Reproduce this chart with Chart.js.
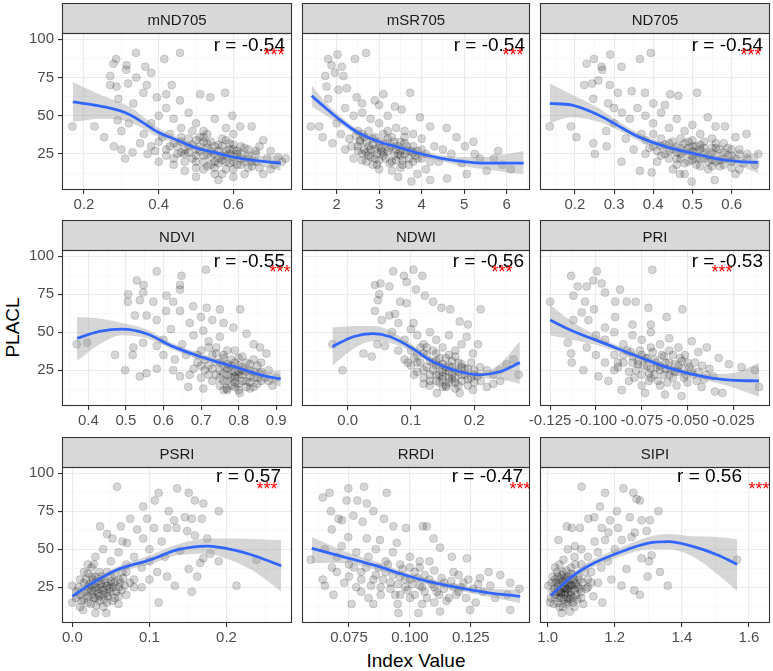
<!DOCTYPE html>
<html>
<head>
<meta charset="utf-8">
<script src="https://cdn.jsdelivr.net/npm/chart.js@4.4.1/dist/chart.umd.min.js"></script>
<style>
  body { margin: 0; background: #fff; }
  #wrap { position: relative; width: 773px; height: 671px; overflow: hidden; font-family: "Liberation Sans", Arial, sans-serif; }
  #wrap canvas { position: absolute; }
  .title { position: absolute; font-size: 19px; line-height: 19px; color: #000; white-space: nowrap; text-align: center; }
</style>
</head>
<body>
<div id="wrap">
  <div class="title" style="left:316px; top:651px; width:200px;">Index Value</div>
  <div class="title" style="left:-38px; top:318px; width:100px; transform:rotate(-90deg);">PLACL</div>
</div>
<script>
// facets, labels
const indexNames = ["mND705", "mSR705", "ND705", "NDVI", "NDWI", "PRI", "PSRI", "RRDI", "SIPI"];
const rLabels = ["r = -0.54", "r = -0.54", "r = -0.54", "r = -0.55", "r = -0.56", "r = -0.53", "r = 0.57", "r = -0.47", "r = 0.56"];
const yTicks = ["25", "50", "75", "100"];
const yRange = [1.5, 104];

// x tick labels and ranges per index
const xTicksMND705 = ["0.2", "0.4", "0.6"];
const xTicksMSR705 = ["2", "3", "4", "5", "6"];
const xTicksND705 = ["0.2", "0.3", "0.4", "0.5", "0.6"];
const xTicksNDVI = ["0.4", "0.5", "0.6", "0.7", "0.8", "0.9"];
const xTicksNDWI = ["0.0", "0.1", "0.2"];
const xTicksPRI = ["-0.125", "-0.100", "-0.075", "-0.050", "-0.025"];
const xTicksPSRI = ["0.0", "0.1", "0.2"];
const xTicksRRDI = ["0.075", "0.100", "0.125"];
const xTicksSIPI = ["1.0", "1.2", "1.4", "1.6"];

const xRangeMND705 = [0.141, 0.757];
const xRangeMSR705 = [1.184, 6.55];
const xRangeND705 = [0.111, 0.698];
const xRangeNDVI = [0.33, 0.942];
const xRangeNDWI = [-0.072, 0.288];
const xRangePRI = [-0.1305, -0.005];
const xRangePSRI = [-0.0134, 0.285];
const xRangeRRDI = [0.0557, 0.1493];
const xRangeSIPI = [0.977, 1.663];

// scatter points [index value, PLACL]
const ptsMND705 = [[0.169,43],[0.228,43],[0.254,36],[0.279,84],[0.286,87],[0.314,83],[0.313,80],[0.339,91],[0.364,82],[0.38,78],[0.415,87],[0.457,91],[0.27,76],[0.27,70],[0.287,69],[0.318,71],[0.34,75],[0.368,70],[0.292,61],[0.332,58],[0.359,65],[0.395,62],[0.435,70],[0.42,64],[0.457,60],[0.511,64],[0.538,62],[0.578,65],[0.597,50],[0.618,43],[0.649,43],[0.68,34],
  [0.3,28],[0.28,30],[0.31,22],[0.33,26],[0.35,32],[0.32,45],[0.29,47],[0.3,40],[0.38,45],[0.4,50],[0.42,55],[0.44,48],[0.46,42],[0.48,52],[0.5,45],[0.52,40],[0.55,48],[0.58,42],[0.6,38],[0.62,30],[0.64,28],[0.66,25],[0.7,27],[0.72,23],[0.73,20],[0.7,15],[0.68,12],[0.65,17],
  [0.45,30],[0.47,25],[0.48,35],[0.5,28],[0.5,20],[0.52,33],[0.53,25],[0.54,18],[0.55,30],[0.56,22],[0.57,35],[0.58,27],[0.58,15],[0.6,20],[0.61,25],[0.62,18],[0.63,12],[0.55,12],[0.52,15],[0.5,10],[0.56,8],[0.6,10],[0.44,22],[0.42,28],[0.4,33],[0.38,30],[0.4,20],[0.43,38],[0.46,36],[0.49,40],[0.51,36],[0.53,38],[0.47,14],[0.59,32],[0.64,22],[0.66,20],[0.67,30],[0.69,22],[0.71,18],[0.74,22],[0.36,38],[0.37,25],
  [0.47,28],[0.49,22],[0.51,30],[0.52,24],[0.54,27],[0.55,20],[0.56,31],[0.57,24],[0.58,20],[0.59,25],[0.6,28],[0.53,32],[0.5,34],[0.48,30],[0.46,26],[0.44,32],[0.62,22],[0.6,15],[0.57,12],[0.64,16],
  [0.45,25],[0.46,33],[0.47,20],[0.48,26],[0.49,31],[0.5,24],[0.5,16],[0.51,27],[0.52,20],[0.52,36],[0.53,29],[0.53,17],[0.54,23],[0.54,33],[0.55,25],[0.55,16],[0.56,27],[0.56,19],[0.57,30],[0.57,21],[0.58,24],[0.58,34],[0.59,19],[0.59,28],[0.6,23],[0.6,31],[0.61,18],[0.61,27],[0.62,25],[0.63,20],[0.63,29],[0.64,24],[0.65,20],[0.66,27],[0.67,16],[0.42,24],[0.43,30],[0.41,36],[0.39,27],[0.44,18]];
const ptsMSR705 = [[2.02,90],[2.69,91],[1.8,87],[1.88,83],[2.12,82],[2.43,87],[1.96,78],[1.73,76],[2.16,76],[1.76,69],[2.04,67],[2.24,68],[1.8,61],[2.47,62],[3.1,64],[2.9,60],[3.37,56],[3.73,65],[3.53,54],[3.96,49],[4.2,43],[1.39,43],[1.59,43],[1.67,36],[4.59,42],[4.82,36],[5.22,33],[5.02,30],[5.25,25],[5.37,22],[4.94,19],[5.06,12],[5.53,14],[4.2,8],[4.6,9],[3.76,7],[3.45,10],
  [2.2,55],[2.4,50],[2.6,52],[2.8,48],[3.0,45],[3.2,50],[3.4,42],[3.6,40],[3.8,38],[2.0,45],[2.1,38],[1.9,32],[2.2,28],[2.3,35],[2.5,40],[4.0,35],[4.3,30],[4.5,28],[4.7,25],[4.4,20],[4.1,15],[3.9,12],[5.7,22],[5.9,18],[6.1,15],[5.8,27],[2.6,58],[3.0,57],
  [2.5,30],[2.6,25],[2.7,33],[2.8,28],[2.9,22],[3.0,30],[3.1,26],[3.2,35],[3.3,20],[3.4,28],[3.5,24],[3.6,32],[3.7,18],[3.8,26],[3.9,22],[4.0,28],[2.7,20],[3.0,15],[3.3,14],[3.5,16],[2.4,22],[2.6,38],[2.9,36],[3.2,40],[3.5,33],[3.8,30],
  [2.65,28],[2.75,24],[2.85,31],[3.05,27],[3.15,22],[3.25,29],[3.45,25],[3.55,21],[3.65,27],[2.55,34],[2.95,18],[3.35,33],
  [2.5,27],[2.55,33],[2.6,21],[2.65,36],[2.7,26],[2.75,30],[2.8,23],[2.85,35],[2.9,28],[2.95,25],[3.0,33],[3.0,21],[3.05,29],[3.1,24],[3.15,32],[3.2,27],[3.25,19],[3.3,30],[3.35,24],[3.4,21],[3.45,30],[3.5,27],[3.55,18],[3.6,25],[3.65,30],[3.7,22],[3.75,27],[3.8,20],[3.85,24],[3.9,27],[4.0,22],[4.1,25],[4.2,20],[2.45,37],[2.35,30],[2.75,40],[3.1,38],[3.3,36],[3.6,36],[2.85,18]];
const ptsND705 = [[0.136,43],[0.19,43],[0.204,36],[0.23,84],[0.249,87],[0.268,82],[0.27,80],[0.29,90],[0.366,87],[0.394,91],[0.224,70],[0.244,71],[0.26,73],[0.319,82],[0.289,70],[0.247,61],[0.285,58],[0.31,65],[0.345,66],[0.379,65],[0.443,64],[0.464,63],[0.512,65],[0.539,49],[0.559,43],[0.583,43],[0.61,36],[0.638,38],[0.668,25],[0.247,32],[0.251,25],[0.281,30],[0.319,20],[0.366,14],[0.396,13],[0.498,7],[0.557,8],[0.468,12],
  [0.3,45],[0.32,52],[0.34,48],[0.36,55],[0.38,50],[0.4,45],[0.42,52],[0.44,42],[0.46,48],[0.48,40],[0.5,44],[0.52,38],[0.55,35],[0.58,32],[0.6,28],[0.62,25],[0.64,22],[0.66,18],[0.62,15],[0.28,40],[0.33,35],[0.35,28],[0.37,38],[0.4,58],[0.43,57],[0.3,55],
  [0.4,30],[0.42,35],[0.43,25],[0.44,32],[0.45,28],[0.46,22],[0.47,35],[0.48,27],[0.49,20],[0.5,30],[0.5,24],[0.51,18],[0.52,28],[0.53,22],[0.54,15],[0.55,26],[0.56,20],[0.57,28],[0.58,18],[0.59,24],[0.6,20],[0.61,12],[0.41,20],[0.38,25],[0.45,15],[0.48,12],
  [0.46,30],[0.47,25],[0.49,33],[0.5,27],[0.51,22],[0.52,31],[0.53,26],[0.55,21],[0.56,29],[0.57,17],[0.44,27],[0.42,30],
  [0.41,27],[0.42,24],[0.43,31],[0.44,22],[0.45,33],[0.46,26],[0.46,18],[0.47,29],[0.47,22],[0.48,32],[0.48,19],[0.49,25],[0.49,29],[0.5,21],[0.5,34],[0.51,26],[0.51,30],[0.52,22],[0.52,17],[0.53,29],[0.53,33],[0.54,24],[0.54,20],[0.55,29],[0.55,17],[0.56,24],[0.56,32],[0.57,21],[0.58,26],[0.58,22],[0.59,29],[0.6,24],[0.6,16],[0.61,22],[0.62,28],[0.63,19],[0.64,25],[0.38,34],[0.39,29],[0.4,38]];
const ptsNDVI = [[0.369,42],[0.397,43],[0.471,35],[0.498,25],[0.529,84],[0.547,81],[0.582,90],[0.713,91],[0.648,87],[0.506,75],[0.505,70],[0.537,71],[0.546,76],[0.573,70],[0.608,74],[0.626,70],[0.644,81],[0.644,78],[0.607,64],[0.644,64],[0.679,67],[0.715,66],[0.75,65],[0.804,65],[0.524,61],[0.555,61],[0.582,58],[0.546,43],[0.582,41],[0.52,40],[0.518,35],[0.537,21],[0.555,23],[0.582,26],[0.626,25],[0.644,21],[0.666,14],[0.706,13],[0.768,13],[0.803,10],[0.83,13],[0.857,23],[0.874,36],[0.857,40],[0.821,49],[0.786,53],[0.75,47],[0.706,51],[0.67,56],
  [0.6,45],[0.62,52],[0.65,42],[0.68,48],[0.7,38],[0.72,44],[0.74,40],[0.76,35],[0.66,35],[0.63,32],[0.6,35],[0.69,30],[0.88,25],[0.9,20],[0.89,15],[0.86,30],[0.84,42],[0.7,60],[0.73,58],[0.76,56],
  [0.72,28],[0.74,22],[0.75,30],[0.76,18],[0.77,26],[0.78,32],[0.78,20],[0.79,24],[0.8,28],[0.8,16],[0.81,22],[0.82,30],[0.82,18],[0.83,25],[0.84,20],[0.85,28],[0.77,12],[0.73,35],[0.71,25],[0.79,38],[0.81,34],[0.84,14],[0.86,18],[0.75,15],[0.7,20],
  [0.78,25],[0.79,21],[0.8,24],[0.77,29],[0.81,27],[0.79,17],[0.76,23],[0.83,21],
  [0.7,28],[0.71,32],[0.72,22],[0.73,26],[0.73,18],[0.74,30],[0.75,25],[0.75,20],[0.76,28],[0.76,33],[0.77,22],[0.77,18],[0.78,28],[0.78,15],[0.79,30],[0.79,20],[0.8,22],[0.8,33],[0.8,12],[0.81,25],[0.81,18],[0.82,24],[0.82,14],[0.83,29],[0.83,17],[0.84,24],[0.84,32],[0.85,20],[0.85,16],[0.86,24],[0.87,20],[0.74,36],[0.69,35],[0.68,26],[0.67,22],[0.72,40],[0.77,38],[0.88,18],[0.79,14],[0.76,12]];
const ptsNDWI = [[-0.024,42],[-0.008,25],[0.025,36],[0.038,34],[0.047,42],[0.059,41],[0.043,81],[0.052,82],[0.05,75],[0.072,90],[0.089,87],[0.104,91],[0.118,87],[0.066,80],[0.093,83],[0.108,78],[0.048,71],[0.043,64],[0.054,58],[0.066,61],[0.083,70],[0.093,69],[0.122,74],[0.135,70],[0.148,66],[0.162,65],[0.177,57],[0.21,65],[0.08,56],[0.104,56],[0.12,16],[0.141,10],[0.156,14],[0.177,10],[0.198,12],[0.22,14],[0.23,16],[0.241,18],[0.209,27],[0.198,36],[0.206,42],[0.188,47],[0.251,29],[0.262,32],
  [0.07,50],[0.09,45],[0.1,52],[0.11,48],[0.12,42],[0.13,50],[0.14,45],[0.15,40],[0.16,48],[0.17,38],[0.18,42],[0.08,38],[0.09,32],[0.1,38],[0.22,25],[0.23,22],[0.24,25],[0.27,22],[0.19,55],[0.075,62],
  [0.11,30],[0.12,25],[0.125,35],[0.13,22],[0.135,30],[0.14,18],[0.145,28],[0.15,24],[0.155,33],[0.16,20],[0.165,27],[0.17,17],[0.175,30],[0.18,22],[0.185,26],[0.19,19],[0.2,22],[0.15,14],[0.17,13],[0.13,15],[0.105,22],[0.115,40],[0.14,36],[0.16,35],[0.195,30],
  [0.145,22],[0.155,27],[0.16,24],[0.165,19],[0.17,25],[0.14,31],[0.15,19],[0.18,27],
  [0.1,28],[0.105,33],[0.11,24],[0.115,30],[0.12,20],[0.12,36],[0.125,27],[0.13,31],[0.13,18],[0.135,25],[0.14,28],[0.14,22],[0.145,33],[0.145,17],[0.15,29],[0.15,21],[0.155,25],[0.155,15],[0.16,28],[0.16,17],[0.165,31],[0.165,22],[0.17,20],[0.175,24],[0.175,15],[0.18,29],[0.18,18],[0.185,22],[0.19,26],[0.19,15],[0.195,20],[0.2,25],[0.2,17],[0.205,21],[0.21,18],[0.125,40],[0.135,38],[0.11,35],[0.17,34],[0.095,30]];
const ptsPRI = [[-0.125,70],[-0.1135,87],[-0.0995,90],[-0.0692,91],[-0.0968,82],[-0.1014,84],[-0.1099,80],[-0.105,80],[-0.095,76],[-0.0868,78],[-0.1123,74],[-0.1059,70],[-0.101,65],[-0.1077,63],[-0.0895,70],[-0.0832,70],[-0.0783,70],[-0.0714,66],[-0.0614,60],[-0.0528,65],[-0.1123,58],[-0.1041,58],[-0.095,53],[-0.0895,60],[-0.1154,43],[-0.1135,36],[-0.1132,30],[-0.1068,25],[-0.0986,21],[-0.0932,18],[-0.0859,12],[-0.0732,10],[-0.0623,9],[-0.0532,8],[-0.0423,14],[-0.035,11],[-0.031,10],[-0.0395,40],[-0.033,33],[-0.0274,29],[-0.0205,27],[-0.0132,25],[-0.011,14],[-0.0441,37],[-0.0514,35],[-0.0477,44],
  [-0.1,48],[-0.095,45],[-0.09,50],[-0.085,42],[-0.08,48],[-0.075,45],[-0.07,50],[-0.065,42],[-0.06,46],[-0.055,40],[-0.105,40],[-0.1,35],[-0.095,30],[-0.09,25],[-0.08,55],[-0.07,55],
  [-0.085,35],[-0.08,30],[-0.078,25],[-0.075,35],[-0.072,28],[-0.07,20],[-0.068,32],[-0.065,25],[-0.062,30],[-0.06,22],[-0.058,35],[-0.055,28],[-0.052,20],[-0.05,30],[-0.048,25],[-0.045,18],[-0.042,28],[-0.04,22],[-0.082,18],[-0.075,15],[-0.065,15],[-0.088,30],[-0.06,38],[-0.07,40],
  [-0.077,29],[-0.073,33],[-0.067,27],[-0.063,34],[-0.057,24],[-0.053,31],[-0.071,23],[-0.081,37],
  [-0.09,35],[-0.088,27],[-0.085,30],[-0.083,38],[-0.082,24],[-0.08,34],[-0.079,20],[-0.077,31],[-0.076,38],[-0.075,22],[-0.074,28],[-0.072,33],[-0.071,18],[-0.07,26],[-0.069,37],[-0.068,22],[-0.067,30],[-0.066,18],[-0.065,28],[-0.064,35],[-0.063,22],[-0.062,26],[-0.061,17],[-0.06,30],[-0.059,25],[-0.058,20],[-0.057,29],[-0.056,15],[-0.055,24],[-0.054,33],[-0.053,26],[-0.051,22],[-0.05,17],[-0.049,27],[-0.047,22],[-0.046,30],[-0.044,24],[-0.041,19],[-0.038,26],[-0.036,21]];
const ptsPSRI = [[0.0,15],[0.0,26],[0.058,91],[0.112,87],[0.136,90],[0.151,87],[0.159,82],[0.17,80],[0.19,75],[0.092,78],[0.107,82],[0.125,75],[0.146,71],[0.155,70],[0.168,70],[0.132,69],[0.036,65],[0.063,65],[0.075,70],[0.084,63],[0.097,70],[0.106,64],[0.123,64],[0.135,64],[0.149,62],[0.159,59],[0.175,57],[0.052,57],[0.071,54],[0.092,57],[0.116,55],[0.14,49],[0.151,37],[0.162,32],[0.166,41],[0.17,44],[0.179,47],[0.19,42],[0.213,26],[0.155,22],[0.133,26],[0.112,15],[0.123,32],[0.014,10],[0.03,8],[0.044,8],[0.239,43],
  [0.02,40],[0.03,45],[0.04,50],[0.05,42],[0.06,48],[0.07,40],[0.08,45],[0.09,38],[0.1,42],[0.11,35],[0.12,45],[0.1,50],[0.08,30],[0.09,25],[0.1,30],[0.065,55],[0.045,60],
  [0.01,20],[0.015,28],[0.02,15],[0.02,25],[0.025,32],[0.025,20],[0.03,28],[0.03,18],[0.035,24],[0.035,35],[0.04,20],[0.04,30],[0.045,15],[0.045,26],[0.05,22],[0.05,32],[0.055,18],[0.055,28],[0.06,25],[0.065,35],[0.07,20],[0.01,12],[0.025,38],[0.04,12],[0.06,14],[0.015,35],[0.005,22],
  [0.02,22],[0.025,26],[0.03,23],[0.035,19],[0.03,32],[0.04,25],[0.045,21],[0.05,27],[0.015,17],[0.06,30],
  [0.005,18],[0.008,25],[0.01,30],[0.012,16],[0.015,22],[0.018,30],[0.02,19],[0.022,27],[0.024,14],[0.025,23],[0.027,30],[0.028,18],[0.03,25],[0.031,13],[0.033,29],[0.034,21],[0.035,16],[0.037,27],[0.038,32],[0.04,23],[0.041,17],[0.043,28],[0.045,35],[0.046,19],[0.048,24],[0.05,29],[0.052,16],[0.053,25],[0.055,33],[0.057,22],[0.06,19],[0.062,28],[0.064,23],[0.066,31],[0.068,26],[0.07,35],[0.075,28],[0.08,25],[0.02,34],[0.028,40]];
const ptsRRDI = [[0.0593,43],[0.0643,84],[0.067,87],[0.0747,90],[0.0812,91],[0.0905,87],[0.074,82],[0.0784,82],[0.0823,80],[0.0676,75],[0.0707,70],[0.0721,69],[0.0768,72],[0.0806,68],[0.085,75],[0.0894,70],[0.0932,65],[0.0984,64],[0.1053,65],[0.1069,65],[0.0679,63],[0.0747,58],[0.0823,57],[0.0877,56],[0.0946,54],[0.1097,57],[0.1124,51],[0.1172,45],[0.1234,44],[0.1179,35],[0.1323,35],[0.1371,33],[0.1412,28],[0.1288,31],[0.0642,30],[0.0651,26],[0.0686,20],[0.0761,14],[0.085,14],[0.0953,8],[0.1035,8],[0.1124,9],[0.1247,10],[0.1412,10],
  [0.065,50],[0.07,45],[0.072,52],[0.075,40],[0.078,48],[0.08,35],[0.083,45],[0.086,50],[0.09,42],[0.093,48],[0.096,40],[0.1,45],[0.104,38],[0.108,42],[0.07,35],[0.073,28],[0.068,38],[0.13,22],[0.135,18],[0.14,20],[0.145,24],[0.133,26],[0.127,15],
  [0.085,30],[0.088,25],[0.09,35],[0.092,28],[0.094,20],[0.096,32],[0.098,25],[0.1,30],[0.1,18],[0.102,35],[0.104,26],[0.106,22],[0.108,30],[0.11,25],[0.112,20],[0.114,28],[0.116,18],[0.118,25],[0.12,22],[0.122,28],[0.08,22],[0.083,18],[0.095,14],[0.105,14],[0.087,38],
  [0.08,30],[0.082,38],[0.084,26],[0.086,33],[0.088,20],[0.089,30],[0.091,40],[0.092,24],[0.093,33],[0.095,27],[0.096,20],[0.097,37],[0.098,30],[0.099,23],[0.101,27],[0.102,20],[0.103,31],[0.104,42],[0.105,25],[0.106,33],[0.107,18],[0.109,27],[0.11,36],[0.111,22],[0.113,31],[0.114,24],[0.115,16],[0.117,29],[0.119,20],[0.12,33],[0.121,25],[0.123,18],[0.124,30],[0.126,24],[0.128,27],[0.075,32],[0.078,25],[0.077,38],[0.1,38],[0.11,15]];
const ptsSIPI = [[1.101,91],[1.226,90],[1.255,87],[1.171,87],[1.265,83],[1.275,82],[1.156,78],[1.206,75],[1.33,75],[1.245,71],[1.28,69],[1.305,69],[1.186,69],[1.21,64],[1.121,70],[1.139,71],[1.057,65],[1.072,64],[1.096,64],[1.161,64],[1.181,61],[1.26,61],[1.295,62],[1.171,56],[1.221,56],[1.25,58],[1.31,46],[1.302,42],[1.28,44],[1.235,37],[1.335,35],[1.298,32],[1.22,26],[1.258,23],[1.275,20],[1.358,26],[1.565,43],[1.163,15],[1.136,19],[1.106,14],[1.002,26],[1.007,15],[1.042,8],[1.066,9],[1.022,38],[1.047,43],[1.081,52],[1.032,56],
  [1.1,50],[1.12,45],[1.14,55],[1.15,48],[1.18,42],[1.2,50],[1.16,38],[1.13,35],[1.1,40],[1.08,45],[1.06,50],[1.19,30],[1.15,28],[1.12,25],
  [1.02,20],[1.025,28],[1.03,15],[1.03,32],[1.035,22],[1.04,26],[1.04,18],[1.045,35],[1.05,20],[1.05,28],[1.055,14],[1.055,24],[1.06,32],[1.06,18],[1.065,26],[1.07,22],[1.07,38],[1.075,15],[1.08,28],[1.085,20],[1.09,32],[1.095,24],[1.1,18],[1.035,40],[1.045,12],[1.015,22],[1.08,12],
  [1.04,22],[1.05,25],[1.055,30],[1.06,21],[1.065,17],[1.045,29],[1.07,27],[1.035,18],[1.075,33],[1.03,25],
  [1.01,18],[1.012,28],[1.015,32],[1.018,14],[1.02,24],[1.022,30],[1.025,20],[1.028,35],[1.03,22],[1.032,27],[1.035,12],[1.037,30],[1.04,21],[1.042,33],[1.045,24],[1.048,17],[1.05,31],[1.052,22],[1.055,36],[1.058,27],[1.06,15],[1.062,24],[1.065,30],[1.068,20],[1.07,34],[1.072,26],[1.075,18],[1.078,30],[1.08,23],[1.082,40],[1.085,27],[1.088,17],[1.09,25],[1.095,30],[1.1,22],[1.105,28],[1.11,35],[1.115,24],[1.12,30],[1.13,28]];

// loess fit: [x, fit, lower, upper]
const fitMND705 = [[0.17,59,46,72],[0.25,56,48,63],[0.32,51,46,56],[0.4,39,36,42],[0.45,34,32,36],[0.5,29,27,31],[0.55,26,24,28],[0.6,23,21,25],[0.65,21,18.5,23.5],[0.727,19,14,24]];
const fitMSR705 = [[1.41,63,56,70],[1.7,56,51,60],[2.0,49,46,52],[2.5,39,37,41],[3.0,33,31,35],[3.5,29,27,31],[4.0,25,23,27],[4.5,22,20,24],[5.0,20,17,23],[5.5,19,15,23],[6.0,19,13,25],[6.4,19,12,27]];
const fitND705 = [[0.136,58,45,71],[0.19,57,49,64],[0.26,50.5,46,55],[0.3,45,42,48],[0.36,36.5,34,39],[0.43,30,28,32],[0.5,25.5,23.5,27.5],[0.57,21.5,19.5,23.5],[0.62,20,17,23],[0.668,19.5,12.5,26.5]];
const fitNDVI = [[0.37,46,31,60],[0.43,50.5,42,59],[0.49,52,48,56],[0.555,49,46,52],[0.626,40.5,38.5,42.5],[0.697,34,32,36],[0.75,30,28.5,31.5],[0.786,27.5,26,29],[0.83,24,22,26],[0.874,21,18,24],[0.912,19.3,14,25]];
const fitNDWI = [[-0.024,40.5,28,53],[0.009,47,39,54],[0.04,49,44,54],[0.067,47,43,51],[0.098,40.5,38,43],[0.135,30.5,29,32],[0.177,24,22.5,25.5],[0.209,22,20,24],[0.24,24,19,29],[0.272,30,16,44]];
const fitPRI = [[-0.125,58,48,68],[-0.113,51,45,57],[-0.095,42.5,40,45],[-0.077,34,32,36],[-0.059,26,24.5,27.5],[-0.04,20.5,18.5,22.5],[-0.026,18.5,14,23],[-0.011,18,7.5,30]];
const fitPSRI = [[0.0,19,15,23],[0.027,28,26,30],[0.058,36.5,34.5,38.5],[0.101,43,40,46],[0.136,49.5,46,53],[0.175,52,47,57],[0.209,49.5,42,57],[0.24,45,34,56.5],[0.271,39,22,56]];
const fitRRDI = [[0.0597,50.5,41,58],[0.0727,45,41,49],[0.0864,39,36.5,41.5],[0.096,34,32,36],[0.1069,29,27,31],[0.1206,24.5,22.5,26.5],[0.1316,21.5,19,24],[0.1453,19,14.5,23.5]];
const fitSIPI = [[1.01,19.5,16,23],[1.072,32,30,34],[1.121,39,36.5,41.5],[1.221,48.5,45.5,51.5],[1.3,54,50,58],[1.36,55,50,60],[1.43,52,45.5,58.5],[1.509,46,33,58],[1.565,40,22.5,56.5]];

const panelData = [
    [ptsMND705, fitMND705, xTicksMND705, xRangeMND705],
    [ptsMSR705, fitMSR705, xTicksMSR705, xRangeMSR705],
    [ptsND705, fitND705, xTicksND705, xRangeND705],
    [ptsNDVI, fitNDVI, xTicksNDVI, xRangeNDVI],
    [ptsNDWI, fitNDWI, xTicksNDWI, xRangeNDWI],
    [ptsPRI, fitPRI, xTicksPRI, xRangePRI],
    [ptsPSRI, fitPSRI, xTicksPSRI, xRangePSRI],
    [ptsRRDI, fitRRDI, xTicksRRDI, xRangeRRDI],
    [ptsSIPI, fitSIPI, xTicksSIPI, xRangeSIPI]
];

// page layout (pixels)
const colLeft = [62, 302, 540], colWidth = [230, 228, 230];
const stripTop = [3, 220, 437], panelH = [157, 156, 156];
const AXW = 45, AXH = 34, STRIP = 30;
const rTextRight = [223, 223, 223, 223, 222, 223, 219, 221, 202];
const rBase = [17.6, 17.6, 17.6, 16.9, 16.9, 16.9, 14.9, 14.9, 14.9];
const starsCenter = [212, 211, 211, 218, 200, 182, 205, 218, 219];
const FONT = '"Liberation Sans", Arial, sans-serif';

function tickSet(labels, lo, hi) {
    const maj = labels.map(Number);
    const step = maj[1] - maj[0];
    const ext = [maj[0] - step].concat(maj, [maj[maj.length - 1] + step]);
    const minors = [];
    for (let i = 0; i < ext.length - 1; i++) minors.push((ext[i] + ext[i + 1]) / 2);
    return { maj: maj, minors: minors.filter(v => v > lo && v < hi) };
}

function axis(labels, range, show, isX) {
    const t = tickSet(labels, range[0], range[1]);
    const all = t.maj.concat(t.minors).sort((a, b) => a - b);
    const majIdx = v => t.maj.findIndex(m => Math.abs(m - v) < 1e-9);
    const isMaj = c => c.tick && majIdx(c.tick.value) >= 0;
    return {
        type: "linear",
        min: range[0],
        max: range[1],
        afterBuildTicks: s => { s.ticks = all.map(v => ({ value: v })); },
        afterFit: s => {
            if (isX) s.height = AXH; else s.width = AXW;
            s.paddingLeft = 0; s.paddingRight = 0; s.paddingTop = 0; s.paddingBottom = 0;
        },
        border: { display: false },
        grid: {
            color: c => isMaj(c) ? "#EBEBEB" : "#F2F2F2",
            lineWidth: c => isMaj(c) ? 1.1 : 0.6,
            tickColor: c => (show && isMaj(c)) ? "#333333" : "rgba(0,0,0,0)",
            tickLength: 4,
            tickWidth: 1.1
        },
        ticks: {
            autoSkip: false,
            maxRotation: 0,
            minRotation: 0,
            padding: isX ? 2 : 4,
            color: "#4D4D4D",
            font: { family: FONT, size: 15 },
            callback: v => {
                const k = majIdx(v);
                return (show && k >= 0) ? labels[k] : "";
            }
        }
    };
}

function deco(i) {
    return {
        id: "deco" + i,
        beforeDraw(chart) {
            const a = chart.chartArea, ctx = chart.ctx;
            ctx.save();
            ctx.fillStyle = "#FFFFFF";
            ctx.fillRect(a.left, a.top, a.right - a.left, a.bottom - a.top);
            ctx.restore();
        },
        afterDraw(chart) {
            const a = chart.chartArea, ctx = chart.ctx;
            const w = a.right - a.left, h = a.bottom - a.top;
            ctx.save();
            // strip
            ctx.fillStyle = "#D9D9D9";
            ctx.fillRect(a.left, a.top - STRIP, w, STRIP);
            ctx.fillStyle = "#1A1A1A";
            ctx.font = "15px " + FONT;
            ctx.textAlign = "center";
            ctx.textBaseline = "alphabetic";
            ctx.fillText(indexNames[i], a.left + w / 2, a.top - STRIP + 22);
            // r label + stars, clipped to panel
            ctx.save();
            ctx.beginPath();
            ctx.rect(a.left, a.top, w, h);
            ctx.clip();
            ctx.fillStyle = "#000000";
            ctx.font = "19px " + FONT;
            ctx.textAlign = "right";
            ctx.fillText(rLabels[i], a.left + rTextRight[i], a.top + rBase[i]);
            ctx.fillStyle = "#FF0000";
            ctx.font = "18px " + FONT;
            ctx.textAlign = "center";
            ctx.fillText("***", a.left + starsCenter[i], a.top + 28);
            ctx.restore();
            // borders
            ctx.strokeStyle = "#333333";
            ctx.lineWidth = 1.1;
            ctx.strokeRect(a.left + 0.5, a.top - STRIP + 0.5, w - 1, STRIP);
            ctx.strokeRect(a.left + 0.5, a.top + 0.5, w - 1, h - 1);
            ctx.restore();
        }
    };
}

const wrap = document.getElementById("wrap");

panelData.forEach((p, i) => {
    const row = Math.floor(i / 3), col = i % 3;
    const [pts, fit, xTicks, xRange] = p;
    const cv = document.createElement("canvas");
    cv.width = AXW + colWidth[col] + 5;
    cv.height = STRIP + panelH[row] + AXH;
    cv.style.left = (colLeft[col] - AXW) + "px";
    cv.style.top = stripTop[row] + "px";
    wrap.appendChild(cv);

    new Chart(cv, {
        type: "scatter",
        data: {
            datasets: [
                {
                    data: pts.map(d => ({ x: d[0], y: d[1] })),
                    pointRadius: 4,
                    pointBackgroundColor: "rgba(0,0,0,0.16)",
                    pointBorderColor: "rgba(0,0,0,0.13)",
                    pointBorderWidth: 1,
                    showLine: false,
                    order: 3
                },
                {
                    data: fit.map(d => ({ x: d[0], y: d[3] })),
                    showLine: true,
                    borderColor: "rgba(0,0,0,0)",
                    pointRadius: 0,
                    fill: false,
                    cubicInterpolationMode: "monotone",
                    order: 2
                },
                {
                    data: fit.map(d => ({ x: d[0], y: d[2] })),
                    showLine: true,
                    borderColor: "rgba(0,0,0,0)",
                    backgroundColor: "rgba(153,153,153,0.4)",
                    pointRadius: 0,
                    fill: "-1",
                    cubicInterpolationMode: "monotone",
                    order: 2
                },
                {
                    data: fit.map(d => ({ x: d[0], y: d[1] })),
                    showLine: true,
                    borderColor: "#3366FF",
                    borderWidth: 2.8,
                    pointRadius: 0,
                    fill: false,
                    cubicInterpolationMode: "monotone",
                    order: 1
                }
            ]
        },
        options: {
            responsive: false,
            animation: false,
            devicePixelRatio: 1,
            events: [],
            layout: { padding: { top: STRIP, right: 5, left: 0, bottom: 0 } },
            scales: {
                x: axis(xTicks, xRange, true, true),
                y: axis(yTicks, yRange, col === 0, false)
            },
            plugins: {
                legend: { display: false },
                tooltip: { enabled: false }
            }
        },
        plugins: [deco(i)]
    });
});
</script>
</body>
</html>
